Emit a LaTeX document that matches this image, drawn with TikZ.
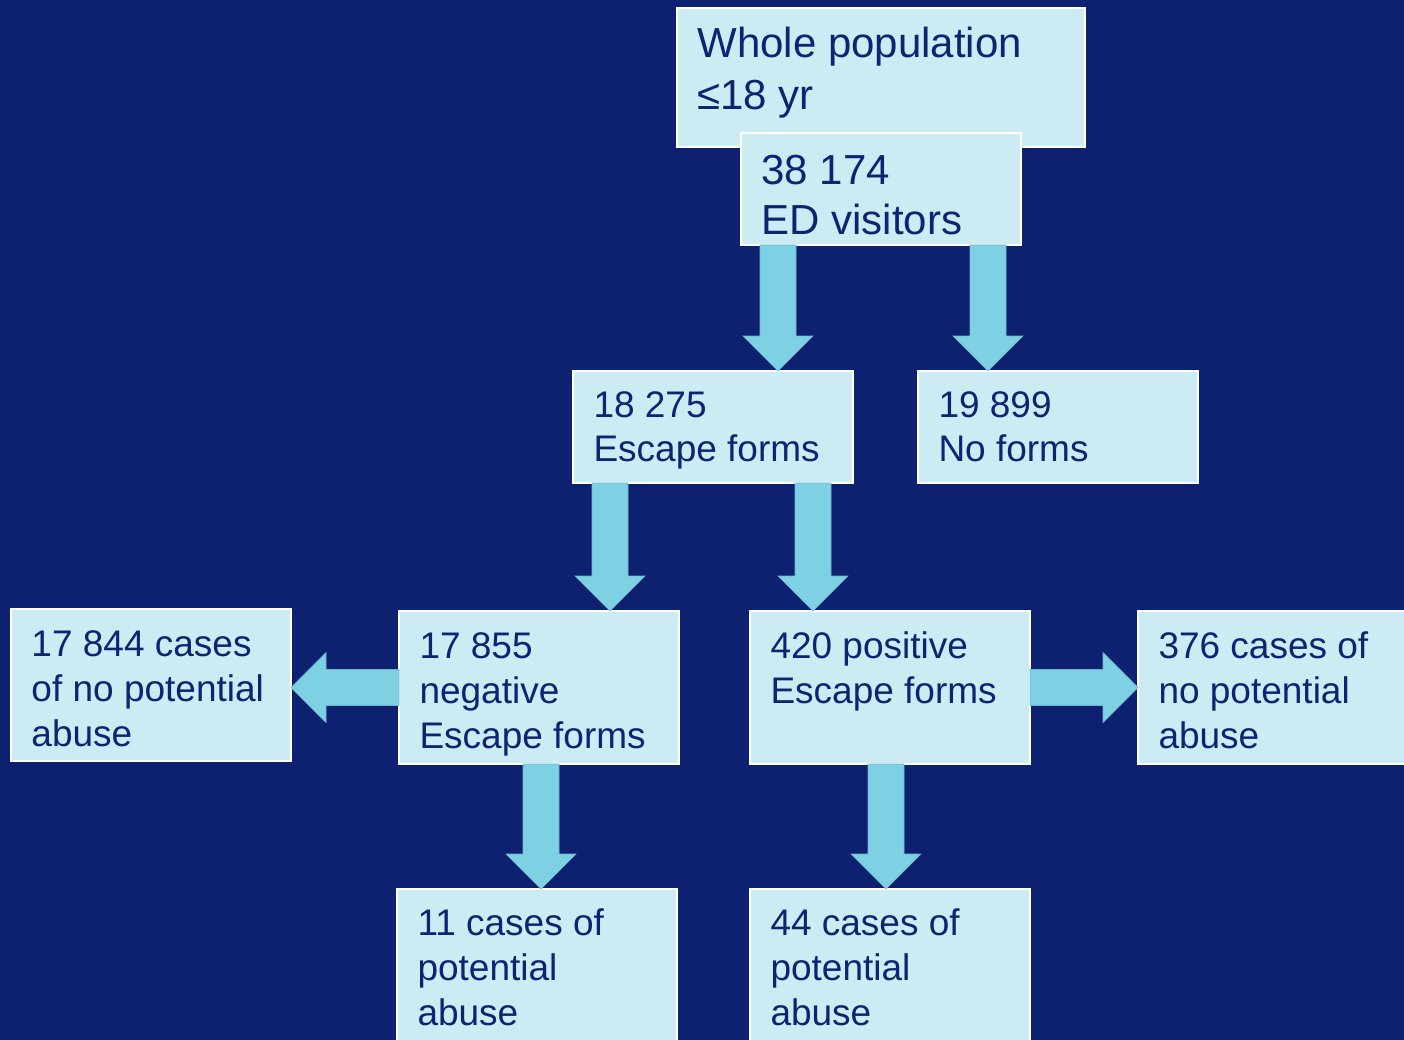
\documentclass[tikz,border=0pt]{standalone}
\usepackage{fontspec}
\setmainfont{Liberation Sans}
\usetikzlibrary{calc}
\definecolor{bgc}{HTML}{0E2070}
\definecolor{boxc}{HTML}{CCEBF2}
\definecolor{arrc}{HTML}{7ED1E2}
\definecolor{txtc}{HTML}{102272}
\newcommand\boxtext[6]{% width height fontsize baselineskip firstbaseline text
  \parbox[c][#2][t]{#1}{\fontsize{#3}{#4}\selectfont\raggedright\leftskip=20.5pt\parindent=0pt
  \rule{0pt}{#5}#6}}
\tikzset{
  box/.style={draw=white, line width=1.5pt, fill=boxc, text=txtc, inner sep=0pt, outer sep=0pt, anchor=north west},
  fat/.style={fill=arrc, draw=arrc!85!bgc, line width=0.6pt,
    to path={let \p1=(\tikztostart), \p2=(\tikztotarget),
      \n1={atan2(\y2-\y1,\x2-\x1)}, \n2={veclen(\x2-\x1,\y2-\y1)} in
      {[shift={(\p1)}, rotate=\n1]
        (0,-18) -- ({\n2-35},-18) -- ({\n2-35},-35) -- (\n2,0) -- ({\n2-35},35) -- ({\n2-35},18) -- (0,18) -- cycle}}}
}
\begin{document}
\begin{tikzpicture}[x=1pt,y=1pt]
\useasboundingbox (0,0) rectangle (1404,-1040);
\clip (0,0) rectangle (1404,-1040);
\fill[bgc] (0,0) rectangle (1404,-1040);
% boxes
\node[box] (whole) at (677,-8) {\boxtext{408pt}{139pt}{42pt}{52pt}{50pt}{Whole population\\≤18 yr}};
\node[box] (ed) at (741,-133) {\boxtext{280pt}{112pt}{42pt}{50pt}{52pt}{38 174\\ED visitors}};
\node[box] (esc) at (573,-371) {\boxtext{280pt}{112pt}{37pt}{44pt}{46pt}{18 275\\Escape forms}};
\node[box] (nof) at (918,-371) {\boxtext{280pt}{112pt}{37pt}{44pt}{46pt}{19 899\\No forms}};
\node[box] (nopa) at (11,-609) {\boxtext{280pt}{152pt}{37pt}{45pt}{47pt}{17 844 cases\\of no potential\\abuse}};
\node[box] (neg) at (399,-611) {\boxtext{280pt}{153pt}{37pt}{45pt}{47pt}{17 855\\negative\\Escape forms}};
\node[box] (pos) at (750,-611) {\boxtext{280pt}{153pt}{37pt}{45pt}{47pt}{420 positive\\Escape forms}};
\node[box] (nopb) at (1138,-611) {\boxtext{280pt}{153pt}{37pt}{45pt}{47pt}{376 cases of\\no potential\\abuse}};
\node[box] (pa) at (397,-889) {\boxtext{280pt}{170pt}{37pt}{45pt}{46pt}{11 cases of\\potential\\abuse}};
\node[box] (pb) at (750,-889) {\boxtext{280pt}{170pt}{37pt}{45pt}{46pt}{44 cases of\\potential\\abuse}};
% arrow start points
\coordinate (s1) at ([xshift=-103pt]ed.south);
\coordinate (s2) at ([xshift=107pt]ed.south);
\coordinate (s3) at ([xshift=-103pt]esc.south);
\coordinate (s4) at ([xshift=100pt]esc.south);
\coordinate (s7) at ([xshift=2pt]neg.south);
\coordinate (s8) at ([xshift=-4pt]pos.south);
% arrows
\path[fat] (s1) to (s1 |- esc.north);
\path[fat] (s2) to (s2 |- nof.north);
\path[fat] (s3) to (s3 |- neg.north);
\path[fat] (s4) to (s4 |- pos.north);
\path[fat] (neg.west) to (nopa.east |- neg.west);
\path[fat] (pos.east) to (nopb.west |- pos.east);
\path[fat] (s7) to (s7 |- pa.north);
\path[fat] (s8) to (s8 |- pb.north);
\end{tikzpicture}
\end{document}
